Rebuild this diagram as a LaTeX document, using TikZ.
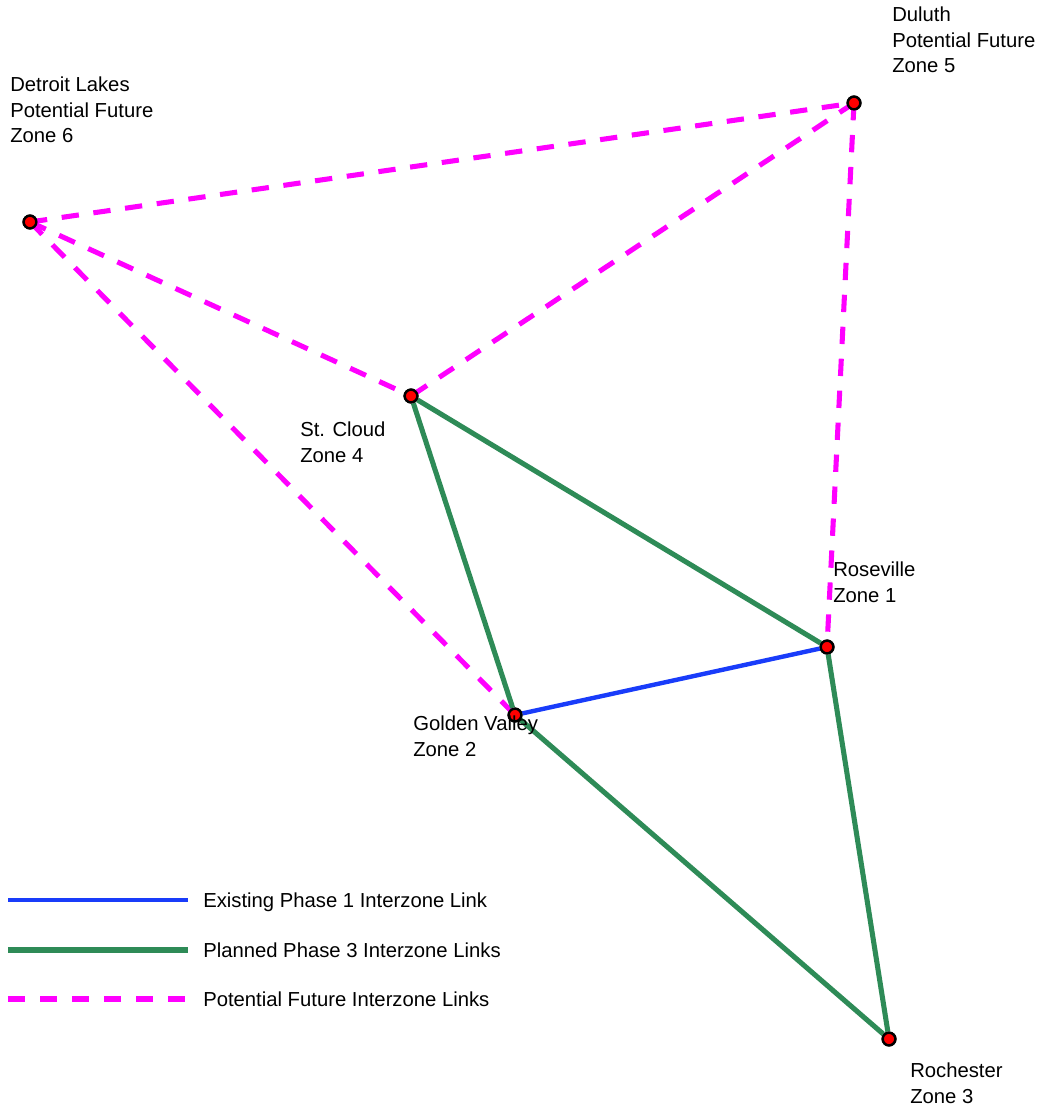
\documentclass[tikz,border=0pt]{standalone}
\usepackage{fontspec}
\setmainfont{Liberation Sans}
\usetikzlibrary{positioning,calc}

\definecolor{linkblue}{RGB}{25,60,250}
\definecolor{linkgreen}{RGB}{46,139,87}
\definecolor{linkpink}{RGB}{255,0,255}

\begin{document}
\begin{tikzpicture}[x=0.75pt,y=-0.75pt,
  zone/.style={circle,draw=black,fill=red,line width=1.8pt,minimum size=9.5pt,inner sep=0pt},
  lbl/.style={anchor=north west,inner sep=0pt,align=left,font=\fontsize{15.2}{19}\selectfont},
  legtext/.style={anchor=base west,inner sep=0pt,font=\fontsize{15.2}{19}\selectfont},
  existing/.style={linkblue,line width=3.3pt},
  planned/.style={linkgreen,line width=3.8pt},
  future/.style={linkpink,line width=3.8pt,dash pattern=on 13pt off 11pt}]
\useasboundingbox (0,0) rectangle (1042,1109);
% zones
\node[zone] (z6) at (30,222) {};
\node[zone] (z5) at (854,103) {};
\node[zone] (z4) at (411,396) {};
\node[zone] (z1) at (827,647) {};
\node[zone] (z2) at (515,715) {};
\node[zone] (z3) at (889,1039) {};
% links
\draw[future] (z6.center) -- (z5.center);
\draw[future] (z6.center) -- (z4.center);
\draw[future] (z6.center) -- (z2.center);
\draw[future] (z5.center) -- (z4.center);
\draw[future] (z5.center) -- (z1.center);
\draw[planned] (z4) -- (z2);
\draw[planned] (z4) -- (z1);
\draw[planned] (z2) -- (z3);
\draw[planned] (z1) -- (z3);
\draw[existing] (z2) -- (z1);
% dots on top
\foreach \z in {z1,z2,z3,z4,z5,z6}
  \node[zone] at (\z) {};
% labels
\node[lbl] (l6) at (10,77) {Detroit Lakes\\Potential Future\\Zone 6};
\node[lbl] (l5) at (892,7) {Duluth\\Potential Future\\Zone 5};
\node[lbl] (l4) at (300,422) {St. Cloud\\Zone 4};
\node[lbl] (l1) at (833,562) {Roseville\\Zone 1};
\node[lbl] (l2) at (413,716) {Golden Valley\\Zone 2};
\node[lbl] (l3) at (910,1063) {Rochester\\Zone 3};
% legend
\coordinate (ea) at (8,900);
\coordinate (eb) at (188,900);
\coordinate (pa) at (8,950);
\coordinate (pb) at (188,950);
\coordinate (fa) at (8,999);
\coordinate (fb) at (188,999);
\draw[existing] (ea) -- (eb);
\draw[planned] (pa) -- (pb);
\draw[future] (fa) -- (fb);
\node[legtext] (te) at (203,907) {Existing Phase 1 Interzone Link};
\node[legtext] (tp) at (203,957) {Planned Phase 3 Interzone Links};
\node[legtext] (tf) at (203,1006) {Potential Future Interzone Links};
\end{tikzpicture}
\end{document}
